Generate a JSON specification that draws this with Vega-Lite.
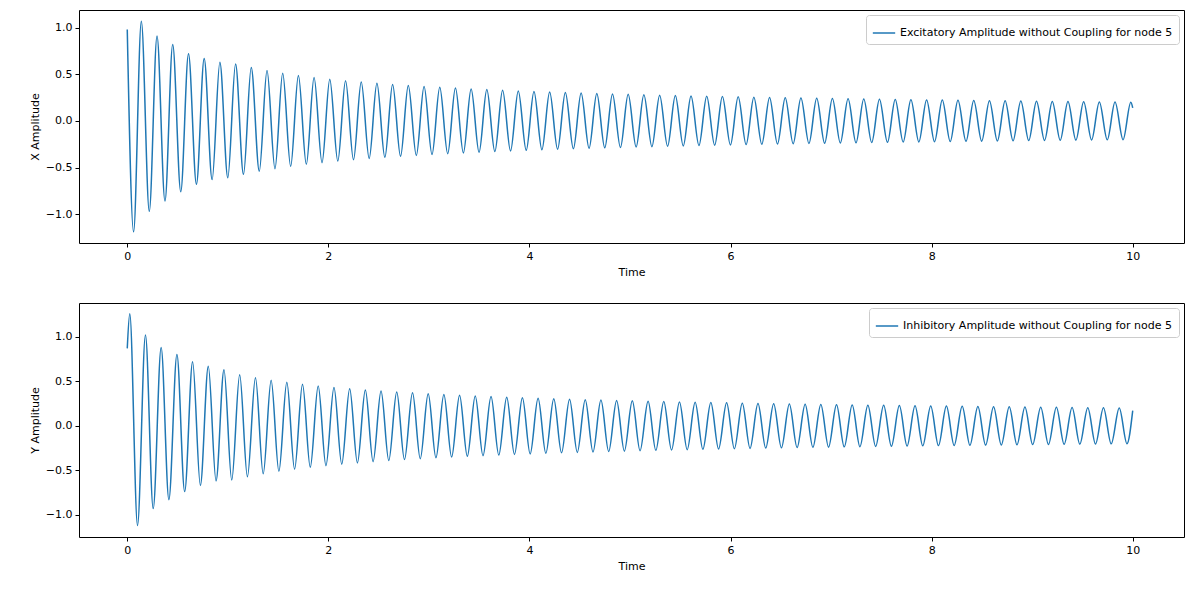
{
  "$schema": "https://vega.github.io/schema/vega-lite/v6.json",
  "padding": {"left": 28, "top": 9, "right": 8, "bottom": 5},
  "spacing": 24,
  "vconcat": [
    {
      "width": 1105,
      "height": 233,
      "data": {"values": [
        {"t":0,"v":0.98},
        {"t":0.063,"v":-1.19},{"t":0.14,"v":1.07},
        {"t":0.219,"v":-0.97},{"t":0.296,"v":0.91},
        {"t":0.375,"v":-0.86},{"t":0.452,"v":0.82},
        {"t":0.532,"v":-0.76},{"t":0.609,"v":0.72},
        {"t":0.688,"v":-0.68},{"t":0.765,"v":0.67},
        {"t":0.844,"v":-0.63},{"t":0.921,"v":0.63},
        {"t":1.0,"v":-0.61},{"t":1.077,"v":0.61},
        {"t":1.156,"v":-0.573},{"t":1.233,"v":0.573},
        {"t":1.313,"v":-0.54},{"t":1.39,"v":0.54},
        {"t":1.469,"v":-0.512},{"t":1.546,"v":0.512},
        {"t":1.625,"v":-0.488},{"t":1.702,"v":0.488},
        {"t":1.781,"v":-0.466},{"t":1.858,"v":0.466},
        {"t":1.937,"v":-0.448},{"t":2.014,"v":0.448},
        {"t":2.094,"v":-0.431},{"t":2.171,"v":0.431},
        {"t":2.25,"v":-0.417},{"t":2.327,"v":0.417},
        {"t":2.406,"v":-0.403},{"t":2.483,"v":0.403},
        {"t":2.562,"v":-0.391},{"t":2.639,"v":0.391},
        {"t":2.718,"v":-0.38},{"t":2.795,"v":0.38},
        {"t":2.875,"v":-0.37},{"t":2.952,"v":0.37},
        {"t":3.031,"v":-0.36},{"t":3.108,"v":0.36},
        {"t":3.187,"v":-0.352},{"t":3.264,"v":0.352},
        {"t":3.343,"v":-0.343},{"t":3.42,"v":0.343},
        {"t":3.499,"v":-0.336},{"t":3.576,"v":0.336},
        {"t":3.656,"v":-0.329},{"t":3.733,"v":0.329},
        {"t":3.812,"v":-0.322},{"t":3.889,"v":0.322},
        {"t":3.968,"v":-0.316},{"t":4.045,"v":0.316},
        {"t":4.124,"v":-0.31},{"t":4.201,"v":0.31},
        {"t":4.28,"v":-0.304},{"t":4.357,"v":0.304},
        {"t":4.437,"v":-0.299},{"t":4.514,"v":0.299},
        {"t":4.593,"v":-0.294},{"t":4.67,"v":0.294},
        {"t":4.749,"v":-0.289},{"t":4.826,"v":0.289},
        {"t":4.905,"v":-0.285},{"t":4.982,"v":0.285},
        {"t":5.061,"v":-0.28},{"t":5.138,"v":0.28},
        {"t":5.218,"v":-0.276},{"t":5.295,"v":0.276},
        {"t":5.374,"v":-0.272},{"t":5.451,"v":0.272},
        {"t":5.53,"v":-0.268},{"t":5.607,"v":0.268},
        {"t":5.686,"v":-0.264},{"t":5.763,"v":0.264},
        {"t":5.842,"v":-0.261},{"t":5.919,"v":0.261},
        {"t":5.999,"v":-0.258},{"t":6.076,"v":0.258},
        {"t":6.155,"v":-0.254},{"t":6.232,"v":0.254},
        {"t":6.311,"v":-0.251},{"t":6.388,"v":0.251},
        {"t":6.467,"v":-0.248},{"t":6.544,"v":0.248},
        {"t":6.623,"v":-0.245},{"t":6.7,"v":0.245},
        {"t":6.78,"v":-0.242},{"t":6.857,"v":0.242},
        {"t":6.936,"v":-0.24},{"t":7.013,"v":0.24},
        {"t":7.092,"v":-0.237},{"t":7.169,"v":0.237},
        {"t":7.248,"v":-0.235},{"t":7.325,"v":0.235},
        {"t":7.404,"v":-0.232},{"t":7.481,"v":0.232},
        {"t":7.561,"v":-0.23},{"t":7.638,"v":0.23},
        {"t":7.717,"v":-0.227},{"t":7.794,"v":0.227},
        {"t":7.873,"v":-0.225},{"t":7.95,"v":0.225},
        {"t":8.029,"v":-0.223},{"t":8.106,"v":0.223},
        {"t":8.185,"v":-0.221},{"t":8.262,"v":0.221},
        {"t":8.342,"v":-0.219},{"t":8.419,"v":0.219},
        {"t":8.498,"v":-0.217},{"t":8.575,"v":0.217},
        {"t":8.654,"v":-0.215},{"t":8.731,"v":0.215},
        {"t":8.81,"v":-0.213},{"t":8.887,"v":0.213},
        {"t":8.966,"v":-0.211},{"t":9.043,"v":0.211},
        {"t":9.123,"v":-0.209},{"t":9.2,"v":0.209},
        {"t":9.279,"v":-0.208},{"t":9.356,"v":0.208},
        {"t":9.435,"v":-0.206},{"t":9.512,"v":0.206},
        {"t":9.591,"v":-0.204},{"t":9.668,"v":0.204},
        {"t":9.747,"v":-0.203},{"t":9.824,"v":0.203},
        {"t":9.904,"v":-0.201},{"t":9.981,"v":0.201},
        {"t":10.0,"v":0.14}
      ]},
      "mark": {"type": "line", "interpolate": "monotone", "strokeWidth": 1.5},
      "encoding": {
        "x": {"field": "t", "type": "quantitative", "title": "Time", "scale": {"domain": [-0.48, 10.51], "nice": false}, "axis": {"values": [0, 2, 4, 6, 8, 10], "format": "d"}},
        "y": {"field": "v", "type": "quantitative", "title": "X Amplitude", "scale": {"domain": [-1.31, 1.19], "nice": false}, "axis": {"values": [-1, -0.5, 0, 0.5, 1], "format": ".1f"}},
        "color": {"datum": "Excitatory Amplitude without Coupling for node 5", "type": "nominal", "scale": {"range": ["#1f77b4"]}, "legend": {"title": null, "orient": "top-right"}}
      }
    },
    {
      "width": 1105,
      "height": 234,
      "data": {"values": [
        {"t":0,"v":0.87},
        {"t":0.025,"v":1.26},{"t":0.102,"v":-1.12},
        {"t":0.181,"v":1.02},{"t":0.258,"v":-0.93},
        {"t":0.337,"v":0.88},{"t":0.414,"v":-0.83},
        {"t":0.494,"v":0.8},{"t":0.571,"v":-0.74},
        {"t":0.65,"v":0.72},{"t":0.727,"v":-0.67},
        {"t":0.806,"v":0.67},{"t":0.883,"v":-0.62},
        {"t":0.962,"v":0.63},{"t":1.039,"v":-0.61},
        {"t":1.118,"v":0.573},{"t":1.195,"v":-0.573},
        {"t":1.275,"v":0.54},{"t":1.352,"v":-0.54},
        {"t":1.431,"v":0.512},{"t":1.508,"v":-0.512},
        {"t":1.587,"v":0.488},{"t":1.664,"v":-0.488},
        {"t":1.743,"v":0.466},{"t":1.82,"v":-0.466},
        {"t":1.899,"v":0.448},{"t":1.976,"v":-0.448},
        {"t":2.056,"v":0.431},{"t":2.133,"v":-0.431},
        {"t":2.212,"v":0.417},{"t":2.289,"v":-0.417},
        {"t":2.368,"v":0.403},{"t":2.445,"v":-0.403},
        {"t":2.524,"v":0.391},{"t":2.601,"v":-0.391},
        {"t":2.68,"v":0.38},{"t":2.757,"v":-0.38},
        {"t":2.837,"v":0.37},{"t":2.914,"v":-0.37},
        {"t":2.993,"v":0.36},{"t":3.07,"v":-0.36},
        {"t":3.149,"v":0.352},{"t":3.226,"v":-0.352},
        {"t":3.305,"v":0.343},{"t":3.382,"v":-0.343},
        {"t":3.461,"v":0.336},{"t":3.538,"v":-0.336},
        {"t":3.618,"v":0.329},{"t":3.695,"v":-0.329},
        {"t":3.774,"v":0.322},{"t":3.851,"v":-0.322},
        {"t":3.93,"v":0.316},{"t":4.007,"v":-0.316},
        {"t":4.086,"v":0.31},{"t":4.163,"v":-0.31},
        {"t":4.242,"v":0.304},{"t":4.319,"v":-0.304},
        {"t":4.399,"v":0.299},{"t":4.476,"v":-0.299},
        {"t":4.555,"v":0.294},{"t":4.632,"v":-0.294},
        {"t":4.711,"v":0.289},{"t":4.788,"v":-0.289},
        {"t":4.867,"v":0.285},{"t":4.944,"v":-0.285},
        {"t":5.023,"v":0.28},{"t":5.1,"v":-0.28},
        {"t":5.18,"v":0.276},{"t":5.257,"v":-0.276},
        {"t":5.336,"v":0.272},{"t":5.413,"v":-0.272},
        {"t":5.492,"v":0.268},{"t":5.569,"v":-0.268},
        {"t":5.648,"v":0.264},{"t":5.725,"v":-0.264},
        {"t":5.804,"v":0.261},{"t":5.881,"v":-0.261},
        {"t":5.961,"v":0.258},{"t":6.038,"v":-0.258},
        {"t":6.117,"v":0.254},{"t":6.194,"v":-0.254},
        {"t":6.273,"v":0.251},{"t":6.35,"v":-0.251},
        {"t":6.429,"v":0.248},{"t":6.506,"v":-0.248},
        {"t":6.585,"v":0.245},{"t":6.662,"v":-0.245},
        {"t":6.742,"v":0.242},{"t":6.819,"v":-0.242},
        {"t":6.898,"v":0.24},{"t":6.975,"v":-0.24},
        {"t":7.054,"v":0.237},{"t":7.131,"v":-0.237},
        {"t":7.21,"v":0.235},{"t":7.287,"v":-0.235},
        {"t":7.366,"v":0.232},{"t":7.443,"v":-0.232},
        {"t":7.523,"v":0.23},{"t":7.6,"v":-0.23},
        {"t":7.679,"v":0.227},{"t":7.756,"v":-0.227},
        {"t":7.835,"v":0.225},{"t":7.912,"v":-0.225},
        {"t":7.991,"v":0.223},{"t":8.068,"v":-0.223},
        {"t":8.147,"v":0.221},{"t":8.224,"v":-0.221},
        {"t":8.304,"v":0.219},{"t":8.381,"v":-0.219},
        {"t":8.46,"v":0.217},{"t":8.537,"v":-0.217},
        {"t":8.616,"v":0.215},{"t":8.693,"v":-0.215},
        {"t":8.772,"v":0.213},{"t":8.849,"v":-0.213},
        {"t":8.928,"v":0.211},{"t":9.005,"v":-0.211},
        {"t":9.085,"v":0.209},{"t":9.162,"v":-0.209},
        {"t":9.241,"v":0.208},{"t":9.318,"v":-0.208},
        {"t":9.397,"v":0.206},{"t":9.474,"v":-0.206},
        {"t":9.553,"v":0.204},{"t":9.63,"v":-0.204},
        {"t":9.709,"v":0.203},{"t":9.786,"v":-0.203},
        {"t":9.866,"v":0.201},{"t":9.943,"v":-0.201},
        {"t":10.0,"v":0.17}
      ]},
      "mark": {"type": "line", "interpolate": "monotone", "strokeWidth": 1.5},
      "encoding": {
        "x": {"field": "t", "type": "quantitative", "title": "Time", "scale": {"domain": [-0.48, 10.51], "nice": false}, "axis": {"values": [0, 2, 4, 6, 8, 10], "format": "d"}},
        "y": {"field": "v", "type": "quantitative", "title": "Y Amplitude", "scale": {"domain": [-1.25, 1.38], "nice": false}, "axis": {"values": [-1, -0.5, 0, 0.5, 1], "format": ".1f"}},
        "color": {"datum": "Inhibitory Amplitude without Coupling for node 5", "type": "nominal", "scale": {"range": ["#1f77b4"]}, "legend": {"title": null, "orient": "top-right"}}
      }
    }
  ],
  "resolve": {"scale": {"color": "independent", "x": "independent", "y": "independent"}},
  "config": {
    "font": "DejaVu Sans",
    "view": {"stroke": "black", "strokeWidth": 1},
    "axis": {"grid": false, "domain": false, "tickColor": "black", "tickSize": 4, "labelFontSize": 11, "labelColor": "black", "titleFontSize": 11, "titleFontWeight": "normal", "titleColor": "black", "labelPadding": 3, "titlePadding": 5},
    "legend": {"symbolType": "stroke", "symbolSize": 500, "symbolStrokeWidth": 1.5, "labelFontSize": 11, "labelLimit": 0, "labelColor": "black", "fillColor": "white", "strokeColor": "#cccccc", "padding": 6, "cornerRadius": 3, "offset": 5}
  }
}
